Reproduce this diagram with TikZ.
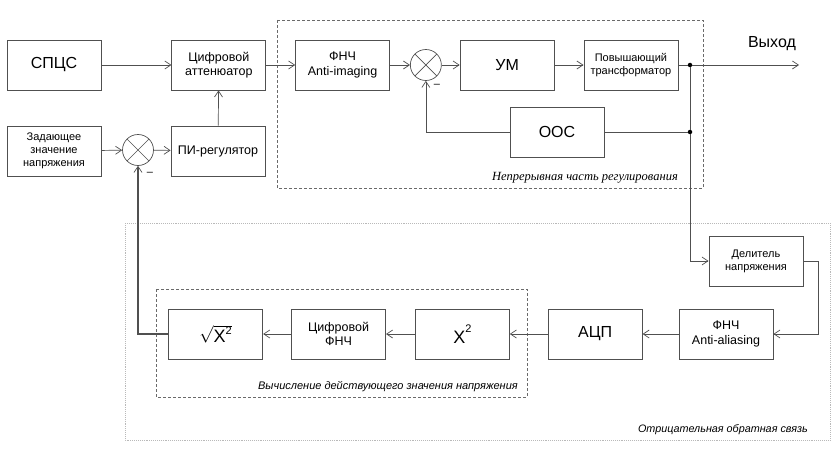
\documentclass[tikz,border=0pt]{standalone}
\usepackage{fontspec}
\setmainfont{Liberation Sans}
\newfontfamily\serifit{Liberation Serif}
\usetikzlibrary{arrows.meta,positioning,calc}
\definecolor{linegray}{HTML}{505050}
\definecolor{framegray}{HTML}{6A6A6A}

\begin{document}
\begin{tikzpicture}[
  x=1pt,y=-1pt,
  box/.style={draw=linegray,line width=0.8pt,align=center,inner sep=2pt,minimum width=94pt,minimum height=50pt,font=\fontsize{12.5}{14.5}\selectfont},
  big/.style={box,font=\fontsize{16}{18}\selectfont},
  small/.style={box,font=\fontsize{11}{13}\selectfont},
  summer/.style={circle,draw=linegray,line width=0.7pt,minimum size=31pt,inner sep=0pt,
    path picture={\draw[linegray,line width=0.6pt]
      (path picture bounding box.north west) -- (path picture bounding box.south east)
      (path picture bounding box.north east) -- (path picture bounding box.south west);}},
  arr/.style={-{Straight Barb[length=6pt,width=8pt,line width=0.7pt]},linegray,line width=0.7pt},
  link/.style={linegray,line width=0.7pt},
  junct/.style={circle,fill=black,inner sep=0pt,minimum size=4.5pt},
  frame/.style={framegray,densely dashed,line width=0.6pt},
  outerframe/.style={gray!55,densely dotted,line width=0.9pt},
  note/.style={inner sep=0pt,font=\fontsize{11}{13}\selectfont\itshape}
]
\useasboundingbox (0,0) rectangle (840,460);

% frames
\draw[frame] (277,20) rectangle (703,188);
\draw[frame] (156,289) rectangle (527,397);
\draw[outerframe] (125,223) rectangle (830,440);

% forward path
\node[big] (spcs) at (54,65) {СПЦС};
\node[box,right=70pt of spcs] (atten) {Цифровой\\аттенюатор};
\node[box,right=29pt of atten] (lpfi) {ФНЧ\\Anti-imaging};
\node[summer,right=20pt of lpfi] (sum2) {};
\node[big,right=18pt of sum2] (um) {УМ};
\node[small,right=29pt of um] (trans) {Повышающий\\трансформатор};
\node[big] (ooc) at (557,132) {ООС};

% setpoint and regulator
\node[small] (zad) at (54,151) {Задающее\\значение\\напряжения};
\node[summer] (sum1) at (138,150) {};
\node[box] (pi) at (218,151) {ПИ-регулятор};

% measuring path
\node[small] (div) at (756,261) {Делитель\\напряжения};
\node[box] (aa) at (726,334) {ФНЧ\\Anti-aliasing};
\node[big,left=36pt of aa] (adc) {АЦП};
\node[box,font=\fontsize{18}{20}\selectfont,left=38pt of adc] (sq) {X\raisebox{1.1ex}{\fontsize{11}{12}\selectfont 2}};
\node[box,left=29pt of sq] (dlpf) {Цифровой\\ФНЧ};
\node[box,font=\fontsize{18}{20}\selectfont,left=28pt of dlpf] (root) {$\sqrt{\mbox{X}^{\mbox{\fontsize{11}{12}\selectfont 2}}}$};

% junctions and output
\node[junct] (j1) at (690,65) {};
\node[junct] (j2) at (690,132) {};
\coordinate (out) at (799,65);
\node[font=\fontsize{16}{18}\selectfont] (outlbl) at (772,44) {Выход};

% signs
\node[font=\fontsize{11}{12}\selectfont] (minus1) at (150,174) {--};
\node[font=\fontsize{11}{12}\selectfont] (minus2) at (437,86) {--};

% labels of frames
\node[note,font=\serifit\itshape\fontsize{12.5}{14}\selectfont,anchor=base east] (contlbl) at (678,180) {Непрерывная часть регулирования};
\node[note,anchor=base east] (rmslbl) at (518,389) {Вычисление действующего значения напряжения};
\node[note,font=\fontsize{10.8}{12}\selectfont\itshape,anchor=base east] (fblbl) at (808,432) {Отрицательная обратная связь};

% connections
\draw[arr] (spcs) -- (atten);
\draw[arr] (atten) -- (lpfi);
\draw[arr] (lpfi) -- (sum2);
\draw[arr] (sum2) -- (um);
\draw[arr] (um) -- (trans);
\draw[link] (trans) -- (j1);
\draw[arr] (j1) -- (out);
\draw[link] (j1) -- (j2);
\draw[link] (j2) -- (ooc);
\draw[arr] (ooc.west) -| (sum2.south);
\draw[arr] (zad) -- (sum1);
\draw[arr] (sum1) -- (pi);
\draw[arr] (pi) -- (atten);
\draw[arr] (j2) |- (div.west);
\draw[arr] (div.east) -- ++(15,0) |- (aa.east);
\draw[arr] (aa) -- (adc);
\draw[arr] (adc) -- (sq);
\draw[arr] (sq) -- (dlpf);
\draw[arr] (dlpf) -- (root);
\draw[arr,line width=1.3pt] (root.west) -| (sum1.south);
\end{tikzpicture}
\end{document}
